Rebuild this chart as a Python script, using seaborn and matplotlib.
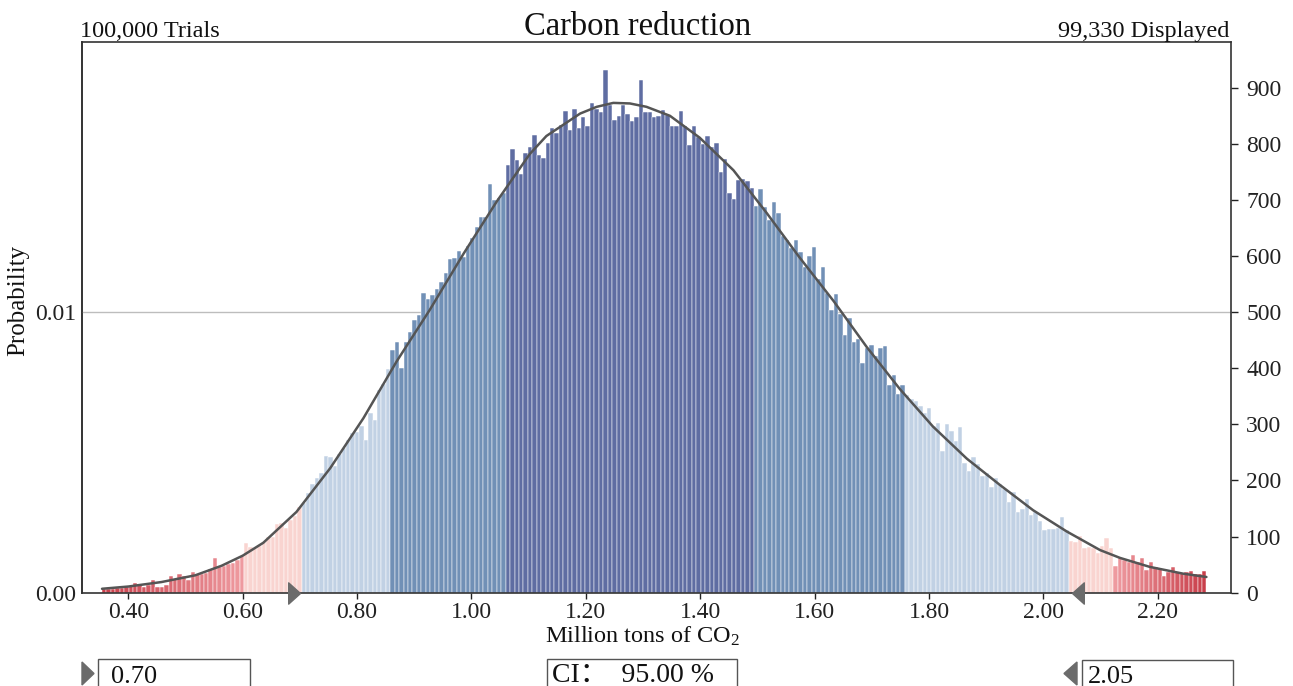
import numpy as np
import pandas as pd
import matplotlib
matplotlib.use("Agg")
import matplotlib.pyplot as plt
from matplotlib.patches import Rectangle, Polygon
from matplotlib.colors import to_rgb
import seaborn as sns

# ---------------- data ----------------
TITLE = "Carbon reduction"
TRIALS = 100000
DISPLAYED = 99330
X_LABEL = "Million tons of CO$_\\mathrm{2}$"
Y_LABEL = "Probability"
CI_LOW = 0.70
CI_HIGH = 2.05
CI_LEVEL = 95.00

X_START = 0.354     # left edge of first bin
X_END = 2.285       # right edge of last bin

# bin counts, grouped by colour band, left to right
red_left = [6, 7, 7, 8, 9, 11, 12, 17, 13, 10, 13, 23, 11, 11, 14, 30, 24, 34, 29, 23,
            37, 33, 34, 36, 42, 61, 46, 48, 52, 53, 58, 65]
pink_left = [89, 82, 79, 83, 91, 99, 99, 122, 124, 116, 130, 137, 153]
light_left = [160, 177, 194, 204, 214, 244, 241, 225, 248, 258, 272, 284, 287, 297, 273,
              320, 308, 361, 372, 398]
mid_left = [433, 447, 400, 447, 465, 486, 495, 535, 523, 531, 541, 554, 569, 595, 597,
            609, 598, 618, 632, 651, 670, 670, 728, 700, 704, 713]
dark_mid = [762, 790, 772, 746, 783, 795, 816, 780, 774, 802, 828, 820, 834, 859, 825,
            863, 829, 847, 831, 873, 863, 857, 932, 869, 843, 849, 869, 854, 840, 848,
            913, 857, 856, 848, 850, 861, 851, 831, 832, 859, 831, 798, 832, 812, 800,
            814, 795, 802, 749, 773, 712, 702, 736, 737, 733, 721]
mid_right = [690, 720, 688, 664, 697, 676, 636, 629, 614, 629, 608, 581, 600, 617, 560,
             581, 534, 504, 532, 497, 459, 489, 447, 453, 410, 437, 441, 421, 437, 439,
             370, 388, 355, 370]
light_right = [352, 346, 342, 332, 320, 329, 297, 303, 252, 300, 288, 271, 296, 232, 217,
               241, 229, 208, 214, 188, 204, 194, 184, 162, 179, 144, 149, 167, 138, 143,
               127, 111, 113, 113, 115, 135, 111]
pink_right = [93, 91, 101, 80, 82, 79, 71, 84, 98, 79]
red_right = [48, 62, 59, 55, 68, 55, 61, 40, 55, 46, 42, 30, 37, 45, 37, 36, 37, 39, 34,
             33, 39]

# fitted curve (x, count)
curve_x = [0.354, 0.40, 0.458, 0.517, 0.563, 0.60, 0.636, 0.694, 0.753, 0.811, 0.869,
           0.927, 0.986, 1.044, 1.102, 1.131, 1.19, 1.219, 1.248, 1.277, 1.306, 1.347,
           1.399, 1.458, 1.516, 1.574, 1.633, 1.691, 1.749, 1.807, 1.866, 1.924, 1.982,
           2.041, 2.099, 2.134, 2.186, 2.244, 2.285]
curve_y = [7, 11, 19, 31, 48, 66, 89, 144, 222, 311, 412, 504, 604, 697, 782, 814, 854,
           866, 873, 872, 866, 850, 811, 753, 677, 597, 520, 438, 363, 296, 239, 192, 147,
           109, 76, 62, 46, 34, 28]

x_ticks = [0.40, 0.60, 0.80, 1.00, 1.20, 1.40, 1.60, 1.80, 2.00, 2.20]
count_ticks = [0, 100, 200, 300, 400, 500, 600, 700, 800, 900]
prob_ticks = [0.00, 0.01]
PROB_PER_COUNT = 0.01 / 500

# ---------------- styling ----------------
C_DARK = "#5f6da2"
C_MID = "#7190b6"
C_LIGHT = "#c1d1e4"
C_PINK = "#f9d4d0"
C_RED_DARK = "#c93f4b"
C_RED_LIGHT = "#ee9a9f"
C_CURVE = "#555555"
C_MARK = "#6b6b6b"

sns.set_style("white")
plt.rcParams["font.family"] = ["Liberation Serif", "Noto Sans CJK SC", "DejaVu Sans"]
plt.rcParams["mathtext.fontset"] = "custom"
plt.rcParams["mathtext.rm"] = "Liberation Serif"
plt.rcParams["mathtext.it"] = "Liberation Serif:italic"


def gradient(n, c0, c1):
    a, b = np.array(to_rgb(c0)), np.array(to_rgb(c1))
    return [tuple(a + (b - a) * t) for t in np.linspace(0, 1, n)]


bands = [
    (red_left, gradient(len(red_left), C_RED_DARK, C_RED_LIGHT)),
    (pink_left, [C_PINK] * len(pink_left)),
    (light_left, [C_LIGHT] * len(light_left)),
    (mid_left, [C_MID] * len(mid_left)),
    (dark_mid, [C_DARK] * len(dark_mid)),
    (mid_right, [C_MID] * len(mid_right)),
    (light_right, [C_LIGHT] * len(light_right)),
    (pink_right, [C_PINK] * len(pink_right)),
    (red_right, gradient(len(red_right), C_RED_LIGHT, C_RED_DARK)),
]
counts = np.concatenate([np.array(b[0], float) for b in bands])
colors = [c for b in bands for c in b[1]]
n_bins = len(counts)
edges = np.linspace(X_START, X_END, n_bins + 1)
centers = (edges[:-1] + edges[1:]) / 2
hist_df = pd.DataFrame({"x": centers, "w": counts})
curve_df = pd.DataFrame({"x": curve_x, "y": curve_y})

W, H = 1293, 686
fig = plt.figure(figsize=(W / 100, H / 100), dpi=100)
ax = fig.add_axes([82 / W, 1 - 592.7 / H, (1231 - 82) / W, (592.7 - 42.3) / H])

sns.histplot(data=hist_df, x="x", weights="w", bins=n_bins, binrange=(X_START, X_END),
             ax=ax, stat="count", color=C_DARK, edgecolor="white", linewidth=0.35,
             alpha=1)
for p, c in zip(ax.patches, colors):
    p.set_facecolor(c)
    p.set_zorder(2)

sns.lineplot(data=curve_df, x="x", y="y", ax=ax, color=C_CURVE, linewidth=1.8, zorder=3)
for ln in ax.lines:
    ln.set_solid_joinstyle("round")

ax.axhline(prob_ticks[1] / PROB_PER_COUNT, color="#bdbdbd", lw=1.0, zorder=1)

ax.set_xlim(0.319, 2.328)
ax.set_ylim(0, 981)
ax.set_xticks(x_ticks)
ax.set_xticklabels([f"{v:.2f}" for v in x_ticks])
ax.set_yticks(count_ticks)
ax.yaxis.tick_right()
ax.tick_params(axis="y", left=False, right=True, direction="out", length=5,
               width=1, labelsize=17, pad=6, colors="#222222")
ax.tick_params(axis="x", bottom=True, direction="out", length=4, width=1,
               labelsize=17, pad=3, colors="#222222")
ax.set_ylabel("")
ax.set_xlabel("")
for s in ax.spines.values():
    s.set_color("#333333")
    s.set_linewidth(1.2)

sec = ax.secondary_yaxis("left", functions=(lambda c: c * PROB_PER_COUNT,
                                             lambda p: p / PROB_PER_COUNT))
sec.set_yticks(prob_ticks)
sec.set_yticklabels([f"{v:.2f}" for v in prob_ticks])
sec.tick_params(axis="y", length=0, labelsize=17, pad=4, colors="#222222")
sec.spines["left"].set_color("#333333")
sec.spines["left"].set_linewidth(1.2)

# CI markers on the x axis (tip at the value)
tri_r = [(0, 0), (-1, 0.9), (-1, -0.9), (0, 0)]
tri_l = [(0, 0), (1, 0.9), (1, -0.9), (0, 0)]
ax.plot([CI_LOW], [0], marker=tri_r, ms=17, color=C_MARK, clip_on=False, zorder=6,
        linestyle="none")
ax.plot([CI_HIGH], [0], marker=tri_l, ms=17, color=C_MARK, clip_on=False, zorder=6,
        linestyle="none")

# header texts and axis labels
fig.text(80 / W, 1 - 37 / H, f"{TRIALS:,} Trials", fontsize=17.5, ha="left",
         va="baseline", color="#111111")
fig.text(1229 / W, 1 - 37 / H, f"{DISPLAYED:,} Displayed", fontsize=17.5, ha="right",
         va="baseline", color="#111111")
fig.text(638 / W, 1 - 35 / H, TITLE, fontsize=23.5, ha="center", va="baseline",
         color="#111111")
fig.text(18 / W, 1 - 300 / H, Y_LABEL, fontsize=18, rotation=90, ha="center",
         va="center", color="#111111")
fig.text(643 / W, 1 - 643 / H, X_LABEL, fontsize=17.5, ha="center", va="baseline",
         color="#111111")

# bottom boxes
def fig_box(x0, x1, top):
    r = Rectangle((x0 / W, -0.02), (x1 - x0) / W, 0.02 + 1 - top / H,
                  transform=fig.transFigure, fill=False, edgecolor="#555555",
                  linewidth=1.0, clip_on=False)
    fig.add_artist(r)

fig_box(98, 250, 659)
fig_box(547, 737, 659)
fig_box(1082, 1233, 660)

fig.add_artist(Polygon([(82 / W, 1 - 662 / H), (82 / W, 1 - 685 / H), (94 / W, 1 - 673.5 / H)],
                       closed=True, transform=fig.transFigure, color=C_MARK))
fig.add_artist(Polygon([(1077 / W, 1 - 662 / H), (1077 / W, 1 - 685 / H), (1064 / W, 1 - 673.5 / H)],
                       closed=True, transform=fig.transFigure, color=C_MARK))

fig.text(111 / W, 1 - 683 / H, f"{CI_LOW:.2f}", fontsize=19, ha="left", va="baseline",
         color="#111111")
fig.text(1088 / W, 1 - 683 / H, f"{CI_HIGH:.2f}", fontsize=19, ha="left", va="baseline",
         color="#111111")
fig.text(552 / W, 1 - 682 / H, f"CI：  {CI_LEVEL:.2f} %", fontsize=20, ha="left",
         va="baseline", color="#111111")

fig.savefig("out.png", dpi=100)
